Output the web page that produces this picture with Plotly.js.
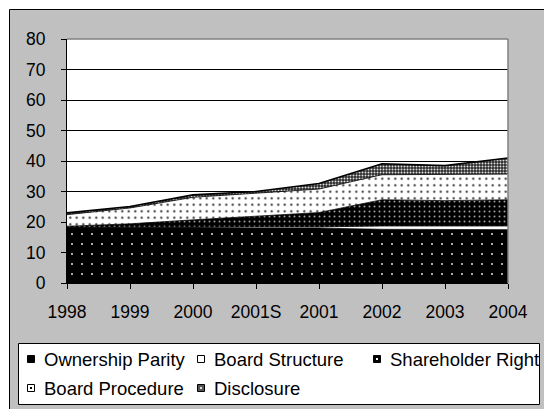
<!DOCTYPE html>
<html>
<head>
<meta charset="utf-8">
<script src="https://cdn.plot.ly/plotly-3.0.1.min.js"></script>
<style>
  html, body { margin: 0; padding: 0; background: #fff; }
  #chart { width: 544px; height: 409px; }
</style>
</head>
<body>
<div id="chart"></div>
<script>
// Corporate governance index by component, stacked
const categories = ['1998', '1999', '2000', '2001S', '2001', '2002', '2003', '2004'];
const ownershipParity  = [18.3, 18.3, 18.2, 18.0, 18.0, 17.6, 17.5, 17.5];
const boardStructure   = [0.0, 0.0, 0.2, 0.3, 0.4, 1.1, 1.2, 1.2];
const shareholderRight = [0.3, 1.1, 2.3, 3.5, 4.7, 8.6, 8.3, 8.6];
const boardProcedure   = [3.8, 5.2, 7.4, 7.7, 7.7, 8.2, 8.5, 8.4];
const disclosure       = [0.6, 0.5, 0.8, 0.5, 1.8, 3.6, 3.0, 5.3];
const seriesNames = ['Ownership Parity', 'Board Structure', 'Shareholder Right',
                     'Board Procedure', 'Disclosure'];
const yTicks = [0, 10, 20, 30, 40, 50, 60, 70, 80];

const FONT = 'Liberation Sans, Arial, Helvetica, sans-serif';
const W = 544, H = 409;
const M = { l: 67, r: 36, t: 39, b: 126 };
const PW = W - M.l - M.r, PH = H - M.t - M.b;
// pixel -> paper coordinate helpers for the frame and legend box
const px = v => (v - M.l) / PW;
const py = v => (H - M.b - v) / PH;

const fills = [
  { shape: '.', bgcolor: '#000', fgcolor: '#fff', size: 10, solidity: 0.025 },
  { shape: '', bgcolor: '#fff', fgcolor: '#fff', size: 8, solidity: 0 },
  { shape: '.', bgcolor: '#000', fgcolor: '#a0a0a0', size: 5, solidity: 0.12 },
  { shape: '.', bgcolor: '#fff', fgcolor: '#333', size: 6.5, solidity: 0.09 },
  { shape: '.', bgcolor: '#2a2a2a', fgcolor: '#e0e0e0', size: 3, solidity: 0.35 }
];
const lineWidths = [0.8, 0.8, 0.8, 0.8, 1.6];
const values = [ownershipParity, boardStructure, shareholderRight, boardProcedure, disclosure];

const traces = values.map((vals, i) => ({
  type: 'scatter',
  mode: 'lines',
  name: seriesNames[i],
  x: categories,
  y: vals,
  stackgroup: 'gov',
  line: { color: '#000', width: lineWidths[i] },
  fillcolor: fills[i].bgcolor,
  fillpattern: fills[i].shape ? fills[i] : undefined,
  showlegend: false,
  hoverinfo: 'skip'
}));

// Legend drawn as a boxed key below the plot
const slots = [[27, 359], [197, 359], [373, 359], [27, 388], [197, 388]];
const swatch = [
  { fill: '#000', dot: null },
  { fill: '#fff', dot: null },
  { fill: '#000', dot: '#fff' },
  { fill: '#fff', dot: '#000' },
  { fill: '#555', dot: '#ddd' }
];
const SW = 8;

const shapes = [
  // grey chart area with dark top/left edge
  { type: 'rect', xref: 'paper', yref: 'paper', layer: 'below',
    x0: px(9.5), x1: px(W + 20), y0: py(H + 20), y1: py(9.5),
    fillcolor: '#c0c0c0', line: { color: '#000', width: 1 } },
  // white plot area
  { type: 'rect', xref: 'paper', yref: 'paper', layer: 'below',
    x0: 0, x1: 1, y0: 0, y1: 1, fillcolor: '#fff', line: { width: 0 } },
  // grey frame on top and right of the plot area
  { type: 'line', xref: 'paper', yref: 'paper', layer: 'above',
    x0: 0, x1: 1, y0: 1, y1: 1, line: { color: '#808080', width: 1.5 } },
  { type: 'line', xref: 'paper', yref: 'paper', layer: 'above',
    x0: 1, x1: 1, y0: 0, y1: 1, line: { color: '#808080', width: 1.5 } },
  // legend box
  { type: 'rect', xref: 'paper', yref: 'paper', layer: 'above',
    x0: px(18.5), x1: px(539.5), y0: py(404.5), y1: py(343.5),
    fillcolor: '#fff', line: { color: '#000', width: 1 } }
];
const annotations = [];
seriesNames.forEach((name, i) => {
  const [sx, sy] = slots[i];
  shapes.push({ type: 'rect', xref: 'paper', yref: 'paper', layer: 'above',
    x0: px(sx + 0.5), x1: px(sx + SW - 0.5), y0: py(sy + SW / 2 - 0.5), y1: py(sy - SW / 2 + 0.5),
    fillcolor: swatch[i].fill, line: { color: '#000', width: 1 } });
  if (swatch[i].dot) {
    shapes.push({ type: 'rect', xref: 'paper', yref: 'paper', layer: 'above',
      x0: px(sx + SW / 2 - 1), x1: px(sx + SW / 2 + 1), y0: py(sy + 1), y1: py(sy - 1),
      fillcolor: swatch[i].dot, line: { width: 0 } });
  }
  annotations.push({ xref: 'paper', yref: 'paper', x: px(sx + 15), y: py(sy),
    xanchor: 'left', yanchor: 'middle', showarrow: false, text: name,
    font: { family: FONT, size: 18.5, color: '#000' } });
});

const layout = {
  width: W, height: H,
  margin: M,
  paper_bgcolor: '#fff',
  plot_bgcolor: '#fff',
  showlegend: false,
  font: { family: FONT, size: 17.5, color: '#000' },
  xaxis: {
    type: 'category',
    range: [0, categories.length - 1],
    showgrid: false, zeroline: false,
    showline: true, linecolor: '#000', linewidth: 1,
    ticks: 'outside', ticklen: 5, tickcolor: '#000', tickwidth: 1,
    ticklabelstandoff: 8,
    tickfont: { family: FONT, size: 17.5, color: '#000' },
    fixedrange: true
  },
  yaxis: {
    range: [0, 80],
    tickvals: yTicks,
    showgrid: true, gridcolor: '#000', gridwidth: 1,
    zeroline: false,
    showline: true, linecolor: '#000', linewidth: 1,
    ticks: 'outside', ticklen: 5, tickcolor: '#000', tickwidth: 1,
    ticklabelstandoff: 12,
    tickfont: { family: FONT, size: 17.5, color: '#000' },
    fixedrange: true
  },
  shapes: shapes,
  annotations: annotations
};

Plotly.newPlot('chart', traces, layout, { displayModeBar: false, staticPlot: true });
</script>
</body>
</html>
